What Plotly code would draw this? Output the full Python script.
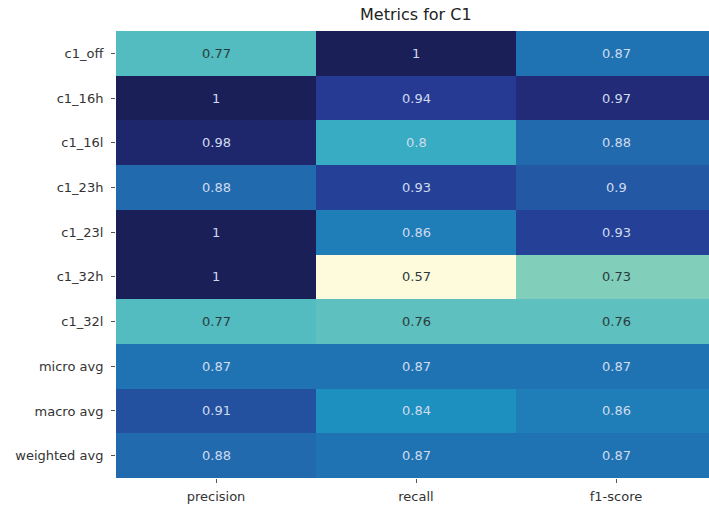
import plotly.graph_objects as go

# Classification report for C1
classes = ["c1_off", "c1_16h", "c1_16l", "c1_23h", "c1_23l", "c1_32h", "c1_32l",
           "micro avg", "macro avg", "weighted avg"]
metrics = ["precision", "recall", "f1-score"]

precision = [0.77, 1.00, 0.98, 0.88, 1.00, 1.00, 0.77, 0.87, 0.91, 0.88]
recall    = [1.00, 0.94, 0.80, 0.93, 0.86, 0.57, 0.76, 0.87, 0.84, 0.87]
f1_score  = [0.87, 0.97, 0.88, 0.90, 0.93, 0.73, 0.76, 0.87, 0.86, 0.87]

z = [[p, r, f] for p, r, f in zip(precision, recall, f1_score)]
zmin = min(min(row) for row in z)
zmax = max(max(row) for row in z)

ylgnbu = [
    [0.000, "#fdfbdb"], [0.125, "#edf8b1"], [0.250, "#c7e9b4"],
    [0.375, "#7fcdbb"], [0.500, "#41b6c4"], [0.625, "#1d91c0"],
    [0.750, "#225ea8"], [0.875, "#263590"], [1.000, "#1b1f57"],
]

fig = go.Figure(go.Heatmap(
    z=z, x=list(range(len(metrics))), y=list(range(len(classes))),
    colorscale=ylgnbu, zmin=zmin, zmax=zmax, showscale=False,
    hoverinfo="skip",
))

font = "DejaVu Sans, sans-serif"
annotations = []
for i, row in enumerate(z):
    for j, v in enumerate(row):
        frac = (v - zmin) / (zmax - zmin)
        annotations.append(dict(
            x=j, y=i, xref="x", yref="y", showarrow=False,
            text=f"{v:g}",
            font=dict(family=font, size=13,
                      color="#d0dbef" if frac > 0.5 else "#2b3b3b"),
        ))
annotations.append(dict(
    x=1, y=1.0, xref="x", yref="paper", yanchor="bottom", yshift=5,
    showarrow=False, text="Metrics for C1",
    font=dict(family=font, size=16, color="#222222"),
))

fig.update_layout(
    width=709, height=505,
    margin=dict(l=116, r=0, t=31, b=27),
    paper_bgcolor="white", plot_bgcolor="white",
    annotations=annotations,
    xaxis=dict(
        range=[-0.5, 2.465], tickvals=list(range(len(metrics))), ticktext=metrics,
        ticks="outside", ticklen=4, tickcolor="#555555", ticklabelstandoff=2,
        tickfont=dict(family=font, size=13, color="#333333"),
        showgrid=False, zeroline=False, showline=False,
    ),
    yaxis=dict(
        range=[len(classes) - 0.5, -0.5],
        tickvals=list(range(len(classes))), ticktext=classes,
        ticks="outside", ticklen=4, tickcolor="#555555", ticklabelstandoff=5,
        tickfont=dict(family=font, size=13, color="#333333"),
        showgrid=False, zeroline=False, showline=False,
    ),
)

fig.write_html("out.html")
